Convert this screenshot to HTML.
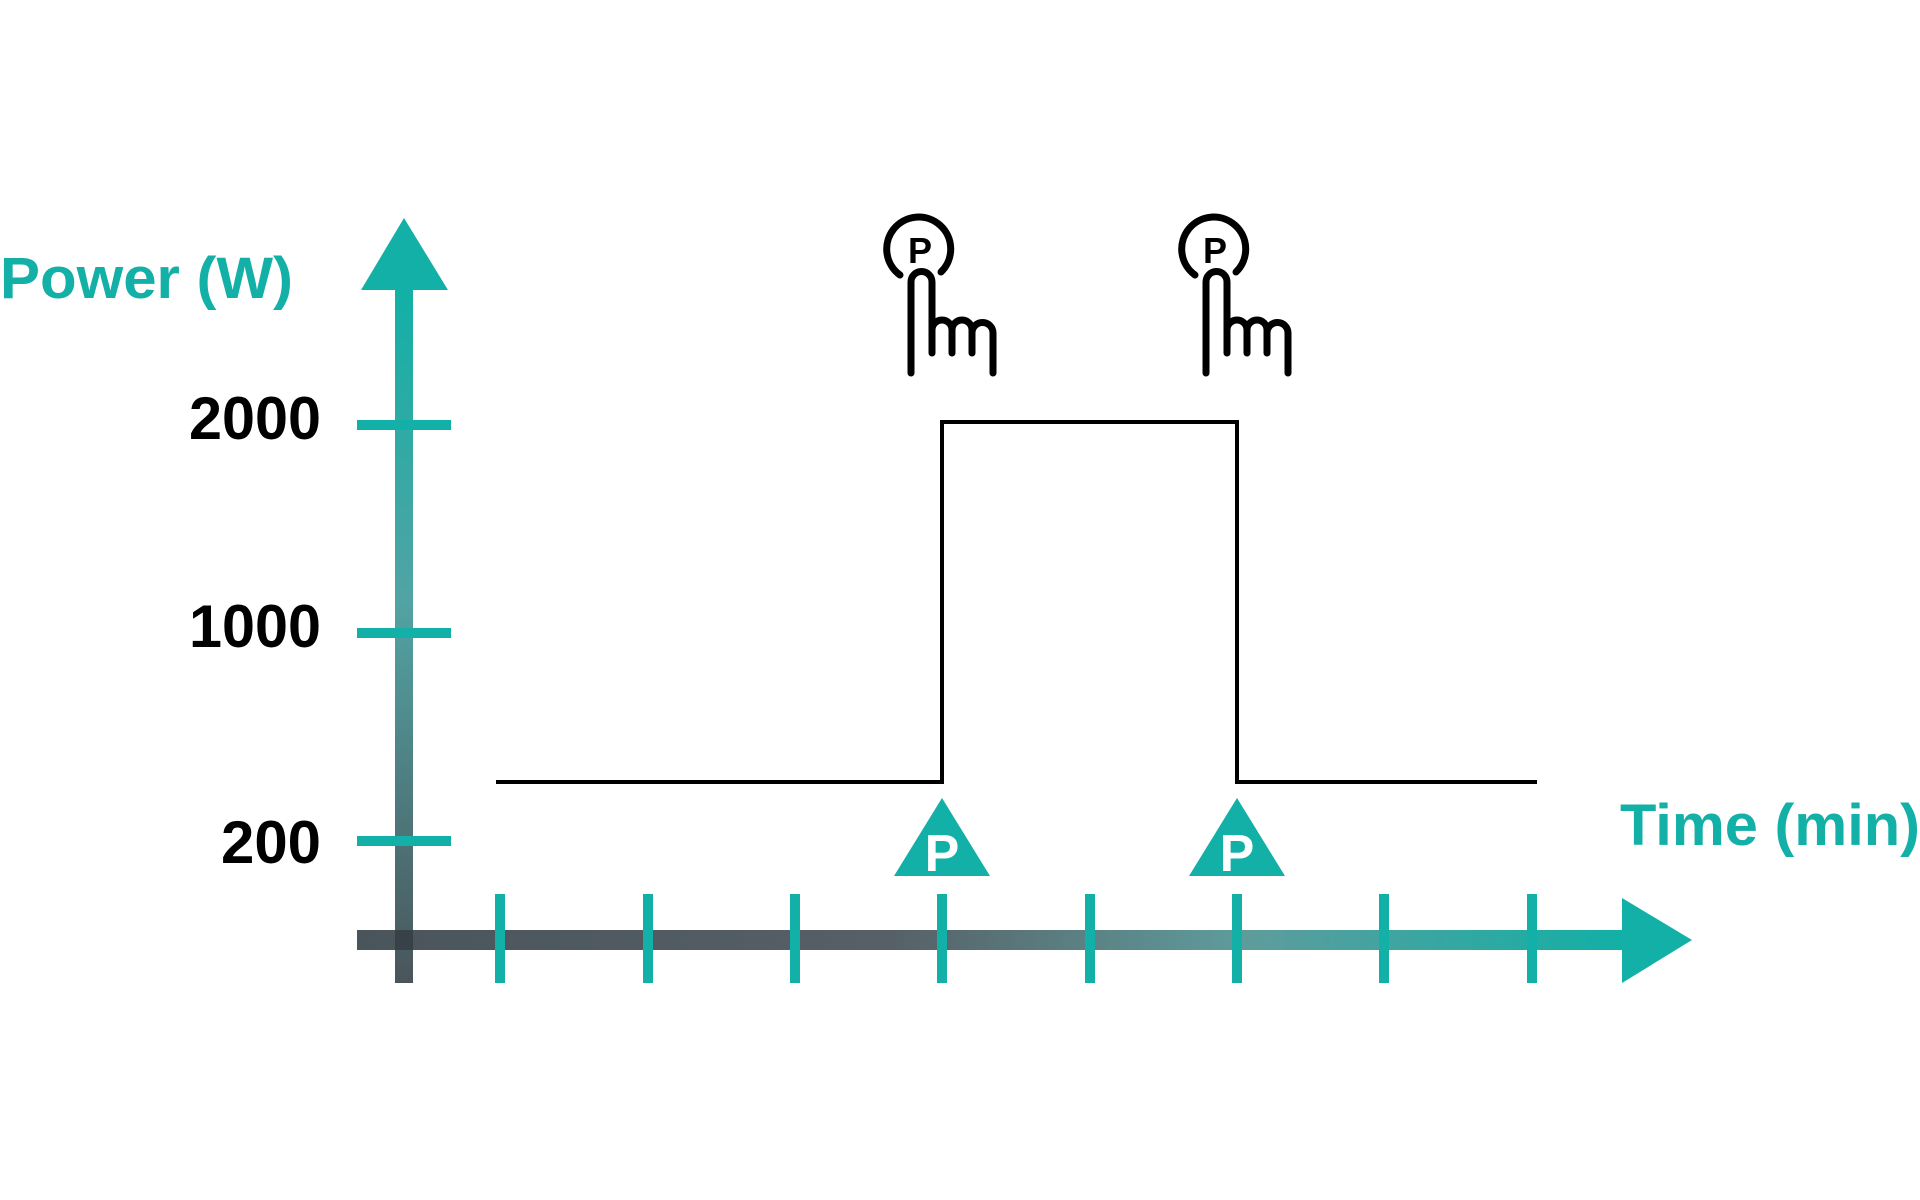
<!DOCTYPE html>
<html><head><meta charset="utf-8"><style>html,body{margin:0;padding:0;background:#fff}svg{display:block}</style></head>
<body>
<svg width="1920" height="1200" viewBox="0 0 1920 1200" xmlns="http://www.w3.org/2000/svg">
<defs>
<linearGradient id="gv" x1="0" y1="290" x2="0" y2="983" gradientUnits="userSpaceOnUse">
<stop offset="0" stop-color="#12b0a6"/><stop offset="0.45" stop-color="#52a3a3"/><stop offset="1" stop-color="#4a555b"/>
</linearGradient>
<linearGradient id="gh" x1="357" y1="0" x2="1622" y2="0" gradientUnits="userSpaceOnUse">
<stop offset="0" stop-color="#4a555b"/><stop offset="0.42" stop-color="#566066"/><stop offset="0.7" stop-color="#5f9c9c"/><stop offset="1" stop-color="#12b0a6"/>
</linearGradient>
</defs>
<g font-family="Liberation Sans, sans-serif" font-weight="bold">
<text x="0" y="298" font-size="58" fill="#12b0a6" textLength="293" lengthAdjust="spacingAndGlyphs">Power (W)</text>
<text x="1620" y="845" font-size="58" fill="#12b0a6" textLength="300" lengthAdjust="spacingAndGlyphs">Time (min)</text>
<text x="321" y="439" font-size="60" fill="#000" text-anchor="end" textLength="132" lengthAdjust="spacingAndGlyphs">2000</text>
<text x="321" y="647" font-size="60" fill="#000" text-anchor="end" textLength="132" lengthAdjust="spacingAndGlyphs">1000</text>
<text x="321" y="863" font-size="60" fill="#000" text-anchor="end" textLength="100" lengthAdjust="spacingAndGlyphs">200</text>
</g>
<rect x="395" y="288" width="18" height="695" fill="url(#gv)"/>
<polygon points="404,218 361,290 448,290" fill="#12b0a6"/>
<rect x="357" y="930" width="1267" height="20" fill="url(#gh)"/>
<polygon points="1622,898 1692,940 1622,983" fill="#12b0a6"/>
<rect x="395" y="930" width="18" height="20" fill="#2a3338" opacity="0.6"/>
<g fill="#12b0a6">
<rect x="357" y="420" width="94" height="10"/>
<rect x="357" y="628" width="94" height="10"/>
<rect x="357" y="836" width="94" height="10"/>
</g>
<g fill="#12b0a6">
<rect x="495" y="894" width="10" height="89"/>
<rect x="643" y="894" width="10" height="89"/>
<rect x="790" y="894" width="10" height="89"/>
<rect x="937" y="894" width="10" height="89"/>
<rect x="1085" y="894" width="10" height="89"/>
<rect x="1232" y="894" width="10" height="89"/>
<rect x="1379" y="894" width="10" height="89"/>
<rect x="1527" y="894" width="10" height="89"/>
</g>
<polyline points="496,782 942,782 942,422 1237,422 1237,782 1537,782" fill="none" stroke="#000" stroke-width="4"/>
<g>
<polygon points="942,798 894,876 990,876" fill="#12b0a6"/>
<polygon points="1237,798 1189,876 1285,876" fill="#12b0a6"/>
<g font-family="Liberation Sans, sans-serif" font-weight="bold" font-size="52" fill="#fff" text-anchor="middle">
<text x="942" y="871">P</text>
<text x="1237" y="871">P</text>
</g>
</g>
<g id="hand" fill="none" stroke="#000" stroke-width="7" stroke-linecap="round">
<path d="M900,275 A32,32 0 1 1 941,272"/>
<path d="M911,373 L911,282 A10.5,10.5 0 0 1 932,282 L932,353"/>
<path d="M932,330 A10,10 0 0 1 952,330 L952,353"/>
<path d="M952,330 A10,10 0 0 1 972,330 L972,353"/>
<path d="M972,333 A10.5,10.5 0 0 1 993,333 L993,373"/>
</g>
<text x="920" y="263" font-family="Liberation Sans, sans-serif" font-weight="bold" font-size="36" text-anchor="middle" fill="#000">P</text>
<use href="#hand" x="295"/>
<text x="1215" y="263" font-family="Liberation Sans, sans-serif" font-weight="bold" font-size="36" text-anchor="middle" fill="#000">P</text>
</svg>
</body></html>
